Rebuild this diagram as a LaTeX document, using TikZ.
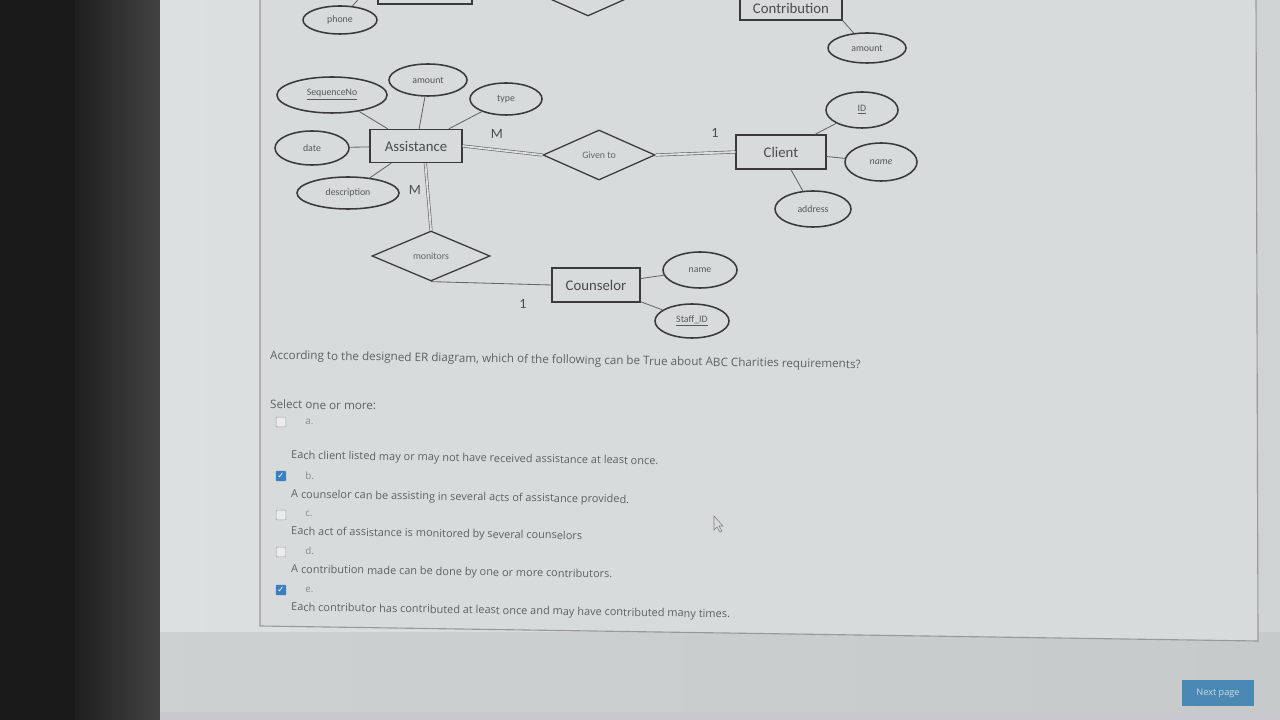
\documentclass[tikz,border=0pt]{standalone}
\usepackage{fontspec}
\setmainfont{Open Sans}
\newfontfamily\erfont{Carlito}
\newfontfamily\tickfont{DejaVu Sans}
\usetikzlibrary{positioning,calc,shapes.geometric}
\definecolor{pagebg}{HTML}{DDE0E0}
\definecolor{pagebgr}{HTML}{CFD3D3}
\definecolor{lowbg}{HTML}{C6CACA}
\definecolor{ink}{HTML}{3A3A3A}
\definecolor{qtext}{HTML}{5E6263}
\definecolor{tickblue}{HTML}{3C7FBF}
\definecolor{btnblue}{HTML}{4C88B4}

\begin{document}
\begin{tikzpicture}[
    x=0.025cm, y=-0.025cm,
    attr/.style={ellipse,draw=ink,line width=1.1pt,inner sep=0pt,
                 font=\erfont\fontsize{7}{8}\selectfont,text=black!65},
    ent/.style={rectangle,draw=ink,line width=0.9pt,inner sep=0pt,
                font=\erfont\fontsize{10.5}{12}\selectfont,text=black!70},
    rel/.style={diamond,draw=ink,line width=0.9pt,inner sep=0pt,
                font=\erfont\fontsize{7}{8}\selectfont,text=black!60},
    card/.style={font=\erfont\fontsize{10}{12}\selectfont,text=black!70},
    link/.style={draw=black!60,line width=0.6pt},
    dbl/.style={draw=black!60,line width=0.45pt,double=pagebg,double distance=1.3pt},
    qtxt/.style={anchor=west,inner sep=0pt,rotate=-0.9,
                 font=\fontsize{7.8}{9}\selectfont,text=qtext},
    qhead/.style={qtxt,font=\fontsize{8.3}{10}\selectfont},
    optl/.style={anchor=west,inner sep=0pt,font=\fontsize{7}{8}\selectfont,text=black!45},
    chk/.style={rectangle,draw=black!35,fill=white!92!black,minimum size=0.24cm,
                inner sep=0pt,rounded corners=0.5pt},
    chkon/.style={chk,draw=tickblue,fill=tickblue,text=white,
                  font=\tickfont\fontsize{6}{6}\selectfont},
    btn/.style={rectangle,fill=btnblue,minimum width=1.78cm,minimum height=0.65cm,
                font=\fontsize{6.5}{8}\selectfont,text=white!70!btnblue}
  ]
    \useasboundingbox (0,0) rectangle (1280,720);
    \clip (0,0) rectangle (1280,720);

    % screen and bezel
    \fill[black!90] (0,0) rectangle (75,720);
    \shade[left color=black!88,right color=black!74] (75,0) rectangle (160,720);
    \shade[left color=pagebg,right color=pagebgr] (160,0) rectangle (1280,720);
    \shade[left color=lowbg!70!pagebg,right color=lowbg] (160,632) rectangle (1280,712);
    \fill[blue!10!black!22] (160,712) rectangle (1280,720);
    \fill[pagebg!60!pagebgr] (260,-2) -- (260,626) -- (1258,641) -- (1256,-2) -- cycle;
    \draw[black!40,line width=0.8pt] (260,-2) -- (260,626) -- (1258,641) -- (1256,-2);

    % upper part, cut by the screen edge
    \node[ent,minimum width=2.35cm,minimum height=0.85cm] (topent) at (425,-13) {};
    \node[rel,minimum width=2.8cm,minimum height=1.25cm] (toprel) at (588,-9) {};
    \node[ent,minimum width=2.55cm,minimum height=0.85cm] (contrib) at (791,3) {};
    \node[card,font=\erfont\fontsize{10.5}{12}\selectfont] (contribtxt) at (791,8) {Contribution};
    \node[attr,minimum width=1.85cm,minimum height=0.7cm] (phone) at (340,20) {phone};
    \coordinate (phoneup) at (372,-16);
    \node[attr,minimum width=1.95cm,minimum height=0.75cm] (camount) at (867,48) {amount};

    % Assistance
    \node[ent,minimum width=2.3cm,minimum height=0.825cm] (asst) at (416,146) {Assistance};
    \node[attr,minimum width=2.75cm,minimum height=0.9cm] (seqno) at (332,95) {\underline{SequenceNo}};
    \node[attr,minimum width=1.95cm,minimum height=0.8cm] (aamount) at (428,80) {amount};
    \node[attr,minimum width=1.8cm,minimum height=0.8cm] (atype) at (506,99) {type};
    \node[attr,minimum width=1.85cm,minimum height=0.85cm] (adate) at (312,148) {date};
    \node[attr,minimum width=2.55cm,minimum height=0.8cm] (adesc) at (348,193) {description};

    % Given to + Client
    \node[rel,minimum width=2.8cm,minimum height=1.25cm] (given) at (599,155) {Given to};
    \node[ent,minimum width=2.25cm,minimum height=0.85cm] (client) at (781,152) {Client};
    \node[attr,minimum width=1.8cm,minimum height=0.9cm] (cid) at (862,110) {\underline{ID}};
    \node[attr,minimum width=1.8cm,minimum height=0.95cm] (cname) at (881,162) {\textit{name}};
    \node[attr,minimum width=1.9cm,minimum height=0.9cm] (caddr) at (813,209) {address};

    % monitors + Counselor
    \node[rel,minimum width=2.95cm,minimum height=1.25cm] (mon) at (431,256) {monitors};
    \node[ent,minimum width=2.2cm,minimum height=0.85cm] (couns) at (596,285) {Counselor};
    \node[attr,minimum width=1.85cm,minimum height=0.9cm] (kname) at (700,270) {name};
    \node[attr,minimum width=1.85cm,minimum height=0.85cm] (kstaff) at (692,321) {\underline{Staff\_ID}};

    % cardinalities
    \node[card] (cm1) at (497,134) {M};
    \node[card] (cone1) at (715,133) {1};
    \node[card] (cm2) at (415,190) {M};
    \node[card] (cone2) at (523,304) {1};

    \draw[link] (phone) -- (phoneup);
    \draw[link] (contrib.south east) -- (camount);
    \draw[link] (seqno) -- (asst);
    \draw[link] (aamount) -- (asst);
    \draw[link] (atype) -- (asst);
    \draw[link] (adate) -- (asst);
    \draw[link] (adesc) -- (asst);
    \draw[link] (cid) -- (client);
    \draw[link] (cname) -- (client);
    \draw[link] (caddr) -- (client);
    \draw[link] (kname) -- (couns);
    \draw[link] (kstaff) -- (couns);
    \draw[dbl] (asst.east) -- (given.west);
    \draw[dbl] (given.east) -- (client.west);
    \draw[dbl] ($(asst.south)!0.2!(asst.south east)$) -- (mon.north);
    \draw[link] (mon.south) -- (couns.west);

    % question
    \node[qhead] (q) at (270,356) {According to the designed ER diagram, which of the following can be True about ABC Charities requirements?};
    \node[qhead] (sel) at (270,404) {Select one or more:};

    \node[chk] (ba) at (281,422) {};
    \node[optl] (la) at (305,422) {a.};
    \node[qtxt] (ta) at (291,456) {Each client listed may or may not have received assistance at least once.};
    \node[chkon] (bb) at (281,476) {✓};
    \node[optl] (lb) at (305,476) {b.};
    \node[qtxt] (tb) at (291,495) {A counselor can be assisting in several acts of assistance provided.};
    \node[chk] (bc) at (281,515) {};
    \node[optl] (lc) at (305,514) {c.};
    \node[qtxt] (tc) at (291,532) {Each act of assistance is monitored by several counselors};
    \node[chk] (bd) at (281,552) {};
    \node[optl] (ld) at (305,551) {d.};
    \node[qtxt] (td) at (291,570) {A contribution made can be done by one or more contributors.};
    \node[chkon] (be) at (281,590) {✓};
    \node[optl] (le) at (305,590) {e.};
    \node[qtxt] (te) at (291,608) {Each contributor has contributed at least once and may have contributed many times.};

    % pointer and button
    \draw[fill=white!85!black,draw=black!50,line width=0.4pt]
      (714,516) -- (714,530) -- (717,527) -- (720,532) -- (722,531) -- (719,526) -- (723,526) -- cycle;
    \node[btn] (next) at (1218,693) {Next page};
\end{tikzpicture}
\end{document}
